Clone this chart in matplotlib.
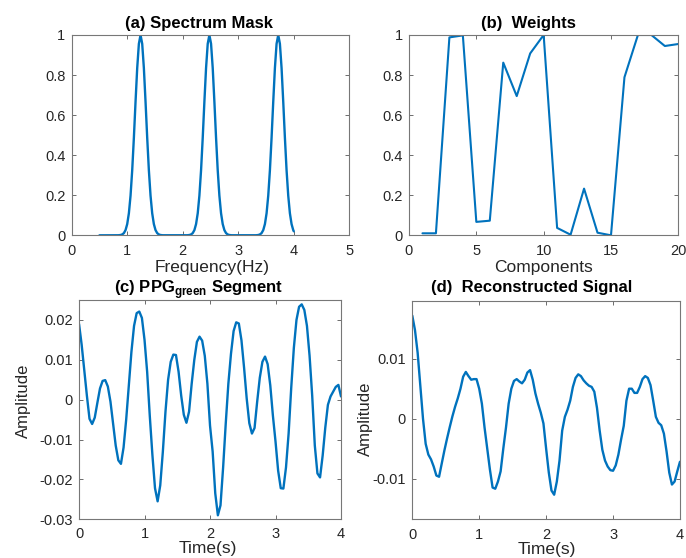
import numpy as np
import matplotlib
matplotlib.use('Agg')
import matplotlib.pyplot as plt
from matplotlib.ticker import FormatStrFormatter

# (a) spectrum mask around the heart-rate harmonics
mask_freq = [0.50,
             0.84, 0.88, 0.91, 0.94, 0.97, 1.00, 1.03, 1.06, 1.09, 1.12, 1.15, 1.18, 1.21, 1.24,
             1.27, 1.30, 1.33, 1.36, 1.39, 1.42, 1.45, 1.48, 1.51, 1.54, 1.57, 1.60, 1.64,
             2.08, 2.12, 2.15, 2.18, 2.21, 2.24, 2.27, 2.30, 2.33, 2.36, 2.39, 2.42, 2.45, 2.48,
             2.51, 2.54, 2.57, 2.60, 2.63, 2.66, 2.69, 2.72, 2.75, 2.78, 2.81, 2.84, 2.88,
             3.32, 3.36, 3.39, 3.42, 3.45, 3.48, 3.51, 3.54, 3.57, 3.60, 3.63, 3.66, 3.69, 3.72,
             3.75, 3.78, 3.81, 3.84, 3.87, 3.90, 3.93, 3.96, 3.99, 4.00]
mask_gain = [0.0,
             0.0003, 0.0015, 0.0043, 0.011, 0.026, 0.056, 0.110, 0.198, 0.325, 0.487, 0.667, 0.835, 0.956, 1.0,
             0.956, 0.835, 0.667, 0.487, 0.325, 0.198, 0.110, 0.056, 0.026, 0.011, 0.0043, 0.0015, 0.0003,
             0.0003, 0.0015, 0.0043, 0.011, 0.026, 0.056, 0.110, 0.198, 0.325, 0.487, 0.667, 0.835, 0.956, 1.0,
             0.956, 0.835, 0.667, 0.487, 0.325, 0.198, 0.110, 0.056, 0.026, 0.011, 0.0043, 0.0015, 0.0003,
             0.0003, 0.0015, 0.0043, 0.011, 0.026, 0.056, 0.110, 0.198, 0.325, 0.487, 0.667, 0.835, 0.956, 1.0,
             0.956, 0.835, 0.667, 0.487, 0.325, 0.198, 0.110, 0.056, 0.026, 0.020]

# (b) weight of each decomposed component
components = list(range(1, 21))
weights = [0.01, 0.01, 0.988, 0.998, 0.067, 0.073, 0.862, 0.695, 0.908, 1.0,
           0.037, 0.003, 0.233, 0.013, 0.0, 0.789, 1.0, 1.0, 0.945, 0.955]

# (c) raw green-channel PPG, 25 samples/s over 4 s
ppg_green = [0.0190, 0.0138, 0.0074, 0.0010, -0.0048, -0.0061, -0.0045, -0.0008, 0.0028, 0.0047,
             0.0049, 0.0033, -0.0005, -0.0060, -0.0115, -0.0152, -0.0161, -0.0120, -0.0050, 0.0035,
             0.0120, 0.0185, 0.0217, 0.0221, 0.0205, 0.0150, 0.0070, -0.0040, -0.0138, -0.0222,
             -0.0255, -0.0215, -0.0130, -0.0030, 0.0050, 0.0095, 0.0113, 0.0112, 0.0070, 0.0010,
             -0.0038, -0.0058, -0.0030, 0.0040, 0.0100, 0.0145, 0.0158, 0.0148, 0.0110, 0.0040,
             -0.0065, -0.0130, -0.0235, -0.0290, -0.0265, -0.0170, -0.0060, 0.0040, 0.0115, 0.0172,
             0.0194, 0.0191, 0.0149, 0.0080, 0.0003, -0.0059, -0.0085, -0.0071, -0.0005, 0.0055,
             0.0095, 0.0108, 0.0089, 0.0036, -0.0040, -0.0105, -0.0178, -0.0222, -0.0223, -0.0170,
             -0.0085, 0.0030, 0.0130, 0.0200, 0.0233, 0.0239, 0.0225, 0.0185, 0.0110, 0.0010,
             -0.0115, -0.0185, -0.0195, -0.0140, -0.0070, -0.0013, 0.0008, 0.0020, 0.0032, 0.0037,
             0.0008]

# (d) signal rebuilt from the weighted components
reconstructed = [0.0172, 0.0148, 0.0110, 0.0055, 0.0000, -0.0042, -0.0060, -0.0068, -0.0080, -0.0095,
                 -0.0097, -0.0075, -0.0053, -0.0033, -0.0014, 0.0004, 0.0020, 0.0034, 0.0050, 0.0070,
                 0.0078, 0.0071, 0.0065, 0.0066, 0.0066, 0.0050, 0.0025, -0.0015, -0.0050, -0.0085,
                 -0.0115, -0.0117, -0.0105, -0.0088, -0.0050, -0.0015, 0.0025, 0.0050, 0.0063, 0.0066,
                 0.0062, 0.0059, 0.0065, 0.0077, 0.0081, 0.0065, 0.0042, 0.0025, 0.0010, -0.0008,
                 -0.0050, -0.0090, -0.0120, -0.0127, -0.0105, -0.0070, -0.0020, 0.0003, 0.0015, 0.0030,
                 0.0053, 0.0068, 0.0074, 0.0071, 0.0064, 0.0059, 0.0055, 0.0053, 0.0045, 0.0018,
                 -0.0020, -0.0052, -0.0070, -0.0080, -0.0086, -0.0087, -0.0078, -0.0060, -0.0035, -0.0012,
                 0.0030, 0.0050, 0.0050, 0.0043, 0.0043, 0.0053, 0.0066, 0.0071, 0.0068, 0.0056,
                 0.0030, 0.0003, -0.0007, -0.0011, -0.0025, -0.0055, -0.0090, -0.0110, -0.0105, -0.0088,
                 -0.0072]

time_s = np.linspace(0, 4, len(ppg_green))

plt.rcParams['font.family'] = ['Liberation Sans', 'DejaVu Sans']
plt.rcParams['axes.unicode_minus'] = False
plt.rcParams['mathtext.fontset'] = 'custom'
plt.rcParams['mathtext.rm'] = 'Liberation Sans'
plt.rcParams['mathtext.bf'] = 'Liberation Sans:bold'

BLUE = '#0072BD'
TXT = '#262626'
LINE = dict(color=BLUE, solid_joinstyle='round', solid_capstyle='round')


def style(ax, xpad):
    ax.tick_params(direction='in', top=True, right=True, length=3, width=0.6,
                   color='#555555', labelcolor=TXT, labelsize=10.5)
    ax.tick_params(axis='x', pad=xpad)
    ax.tick_params(axis='y', pad=4.5)
    for sp in ax.spines.values():
        sp.set_color('#777777')
        sp.set_linewidth(0.8)
    ax.yaxis.set_major_formatter(FormatStrFormatter('%g'))


def title(ax, x, y, text):
    ax.text(x, y, text, transform=ax.transAxes, ha='center', va='baseline',
            fontsize=12, fontweight='bold', color='black')


fig = plt.figure(figsize=(6.86, 5.58), dpi=100)

ax1 = fig.add_axes([0.1045, 0.5783, 0.4047, 0.3590])
ax1.plot(mask_freq, mask_gain, lw=1.7, **LINE)
ax1.set_xlim(0, 5)
ax1.set_ylim(0, 1)
ax1.set_xticks([0, 1, 2, 3, 4, 5])
ax1.set_yticks([0, 0.2, 0.4, 0.6, 0.8, 1])
style(ax1, 6.5)
ax1.set_xlabel('Frequency(Hz)', fontsize=12.5, color=TXT, va='top')
ax1.xaxis.set_label_coords(0.505, -0.122)
title(ax1, 0.4575, 1.034, '(a) Spectrum Mask')

ax2 = fig.add_axes([0.5962, 0.5783, 0.3926, 0.3590])
ax2.plot(components, weights, lw=1.5, **LINE)
ax2.set_xlim(0, 20)
ax2.set_ylim(0, 1)
ax2.set_xticks([0, 5, 10, 15, 20])
ax2.set_yticks([0, 0.2, 0.4, 0.6, 0.8, 1])
style(ax2, 6.5)
ax2.set_xlabel('Components', fontsize=12.5, color=TXT, va='top')
ax2.xaxis.set_label_coords(0.4976, -0.122)
title(ax2, 0.443, 1.034, '(b)  Weights')

ax3 = fig.add_axes([0.1152, 0.0694, 0.3819, 0.3930])
ax3.plot(time_s, ppg_green, lw=1.7, **LINE)
ax3.set_xlim(0, 4)
ax3.set_ylim(-0.03, 0.025)
ax3.set_xticks([0, 1, 2, 3, 4])
ax3.set_yticks([-0.03, -0.02, -0.01, 0, 0.01, 0.02])
style(ax3, 5.5)
ax3.set_xlabel('Time(s)', fontsize=12.5, color=TXT, va='top')
ax3.xaxis.set_label_coords(0.4918, -0.10)
ax3.set_ylabel('Amplitude', fontsize=12, color=TXT)
ax3.yaxis.set_label_coords(-0.183, 0.54)
title(ax3, 0.458, 1.031, r'(c) PPG$_{\bf green}$ Segment')

ax4 = fig.add_axes([0.6010, 0.0694, 0.3902, 0.3918])
ax4.plot(time_s, reconstructed, lw=1.7, **LINE)
ax4.set_xlim(0, 4)
ax4.set_ylim(-0.0168, 0.0197)
ax4.set_xticks([0, 1, 2, 3, 4])
ax4.set_yticks([-0.01, 0, 0.01])
style(ax4, 6.5)
ax4.set_xlabel('Time(s)', fontsize=12.5, color=TXT, va='top')
ax4.xaxis.set_label_coords(0.502, -0.105)
ax4.set_ylabel('Amplitude', fontsize=12, color=TXT)
ax4.yaxis.set_label_coords(-0.147, 0.459)
title(ax4, 0.4445, 1.041, '(d)  Reconstructed Signal')

fig.savefig('out.png', dpi=100, facecolor='white')
